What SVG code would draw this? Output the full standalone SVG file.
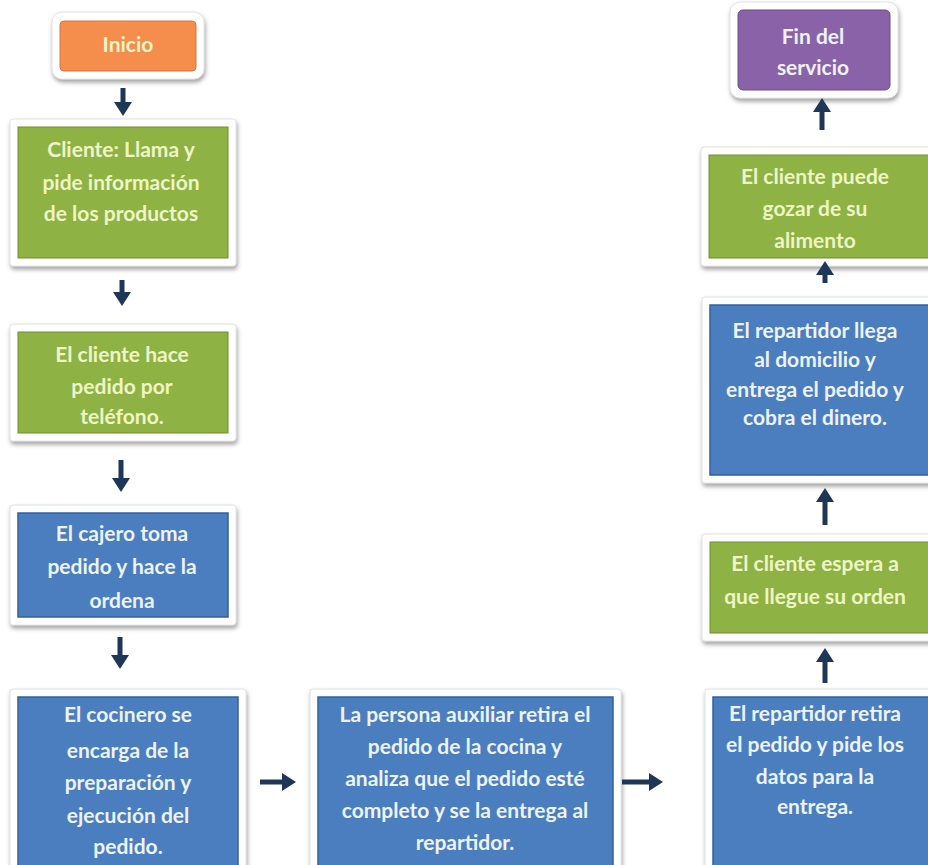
<svg xmlns="http://www.w3.org/2000/svg" width="928" height="865" viewBox="0 0 928 865">
<defs>
<filter id="sh" x="-10%" y="-10%" width="120%" height="130%">
<feDropShadow dx="1" dy="3" stdDeviation="2" flood-color="#555" flood-opacity="0.55"/>
</filter>
<marker id="ah" markerWidth="3" markerHeight="3.6" refX="0.2" refY="1.8" orient="auto" markerUnits="strokeWidth">
<path d="M0,0 L2.8,1.8 L0,3.6 Z" fill="#1e3658"/>
</marker>
<style>
.frame{fill:#fff;stroke:#e2e2e2;stroke-width:1;filter:url(#sh)}
.green{fill:#8eb243;stroke:#6f8f2e;stroke-width:1}
.blue{fill:#4a7ebe;stroke:#35609a;stroke-width:1.5}
.orange{fill:#f58e4c;stroke:#d9753a;stroke-width:1}
.purple{fill:#8a62a8;stroke:#6c4a8a;stroke-width:1}
text{font-family:Lato,"Liberation Sans",sans-serif;font-weight:bold;font-size:21px;text-anchor:middle}
.tg{fill:#eef5c6}
.tb{fill:#edf2fb}
.arr{stroke:#1e3658;stroke-width:5;fill:none;marker-end:url(#ah)}
</style>
</defs>
<rect width="928" height="865" fill="#fff"/>

<g id="inicio">
<rect class="frame" x="52" y="12" width="152" height="67" rx="10"/>
<rect class="orange" x="60" y="21" width="136" height="50" rx="4"/>
<text class="tg" x="128" y="52" font-size="17">Inicio</text>
</g>

<g id="cliente-llama">
<rect class="frame" x="10" y="119" width="226" height="147" rx="3"/>
<rect class="green" x="18" y="127" width="210" height="131"/>
<text class="tg" x="121" y="157">Cliente: Llama y</text>
<text class="tg" x="121" y="190">pide información</text>
<text class="tg" x="121" y="221">de los productos</text>
</g>

<g id="cliente-pedido">
<rect class="frame" x="10" y="324" width="226" height="117" rx="3"/>
<rect class="green" x="18" y="332" width="210" height="101"/>
<text class="tg" x="122" y="362">El cliente hace</text>
<text class="tg" x="122" y="394">pedido por</text>
<text class="tg" x="122" y="424">teléfono.</text>
</g>

<g id="cajero">
<rect class="frame" x="10" y="505" width="226" height="120" rx="3"/>
<rect class="blue" x="18" y="513" width="210" height="104"/>
<text class="tb" x="122" y="541">El cajero toma</text>
<text class="tb" x="122" y="574">pedido y hace la</text>
<text class="tb" x="122" y="608">ordena</text>
</g>

<g id="cocinero">
<rect class="frame" x="10" y="689" width="236" height="190" rx="3"/>
<rect class="blue" x="18" y="697" width="220" height="180"/>
<text class="tb" x="128" y="722">El cocinero se</text>
<text class="tb" x="128" y="758">encarga de la</text>
<text class="tb" x="128" y="790">preparación y</text>
<text class="tb" x="128" y="823">ejecución del</text>
<text class="tb" x="128" y="854">pedido.</text>
</g>

<g id="auxiliar">
<rect class="frame" x="310" y="689" width="311" height="190" rx="3"/>
<rect class="blue" x="318" y="697" width="295" height="180"/>
<text class="tb" x="465" y="722">La persona auxiliar retira el</text>
<text class="tb" x="465" y="754">pedido de la cocina y</text>
<text class="tb" x="465" y="786">analiza que el pedido esté</text>
<text class="tb" x="465" y="818">completo y se la entrega al</text>
<text class="tb" x="465" y="850">repartidor.</text>
</g>

<g id="repartidor-retira">
<rect class="frame" x="705" y="689" width="240" height="190" rx="3"/>
<rect class="blue" x="713" y="697" width="230" height="180"/>
<text class="tb" x="815" y="721">El repartidor retira</text>
<text class="tb" x="815" y="752">el pedido y pide los</text>
<text class="tb" x="815" y="784">datos para la</text>
<text class="tb" x="815" y="814">entrega.</text>
</g>

<g id="cliente-espera">
<rect class="frame" x="702" y="534" width="240" height="107" rx="3"/>
<rect class="green" x="710" y="542" width="230" height="91"/>
<text class="tg" x="815" y="571">El cliente espera a</text>
<text class="tg" x="815" y="604">que llegue su orden</text>
</g>

<g id="repartidor-llega">
<rect class="frame" x="702" y="297" width="240" height="186" rx="3"/>
<rect class="blue" x="710" y="305" width="230" height="170"/>
<text class="tb" x="815" y="338">El repartidor llega</text>
<text class="tb" x="815" y="367">al domicilio y</text>
<text class="tb" x="815" y="397">entrega el pedido y</text>
<text class="tb" x="815" y="425">cobra el dinero.</text>
</g>

<g id="cliente-goza">
<rect class="frame" x="701" y="147" width="240" height="119" rx="3"/>
<rect class="green" x="709" y="155" width="230" height="103"/>
<text class="tg" x="815" y="184">El cliente puede</text>
<text class="tg" x="815" y="216">gozar de su</text>
<text class="tg" x="815" y="248">alimento</text>
</g>

<g id="fin">
<rect class="frame" x="730" y="2" width="168" height="96" rx="10"/>
<rect class="purple" x="738" y="10" width="152" height="80" rx="5"/>
<text class="tb" x="813" y="44" font-size="19">Fin del</text>
<text class="tb" x="813" y="75" font-size="19">servicio</text>
</g>

<g id="connectors">
<line class="arr" x1="123" y1="88" x2="123" y2="103"/>
<line class="arr" x1="122" y1="280" x2="122" y2="293"/>
<line class="arr" x1="121" y1="460" x2="121" y2="479"/>
<line class="arr" x1="120" y1="637" x2="120" y2="656"/>
<line class="arr" x1="260" y1="782" x2="283" y2="782"/>
<line class="arr" x1="622" y1="782" x2="650" y2="782"/>
<line class="arr" x1="825" y1="683" x2="825" y2="661"/>
<line class="arr" x1="825" y1="525" x2="825" y2="501"/>
<line class="arr" x1="825" y1="283" x2="825" y2="274"/>
<line class="arr" x1="822" y1="130" x2="822" y2="111"/>
</g>
</svg>
